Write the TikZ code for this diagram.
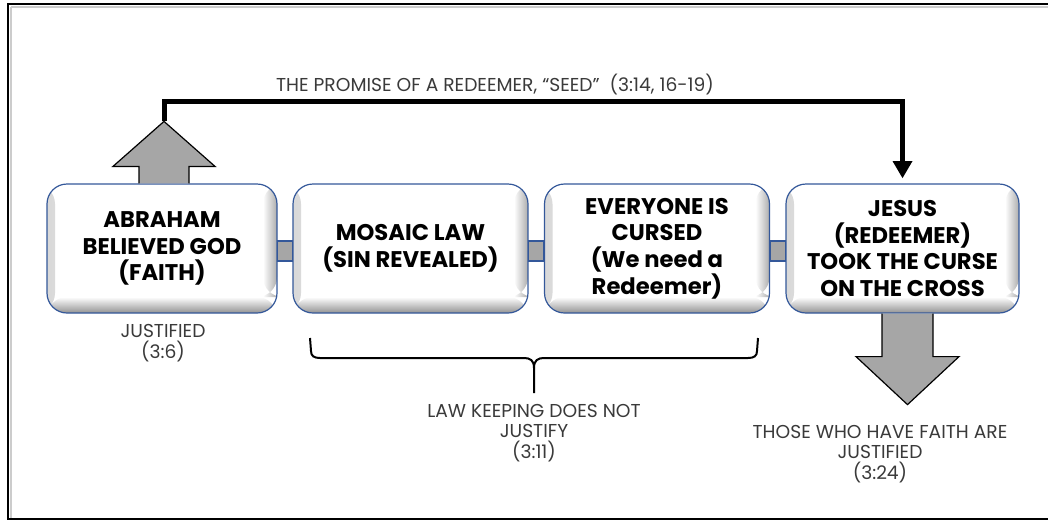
\documentclass[tikz,border=0pt]{standalone}
\usepackage{fontspec}
\setmainfont{Poppins}
\usetikzlibrary{arrows.meta,calc}
\newdimen\pxu \pxu=0.75pt
\definecolor{boxblue}{HTML}{34589A}
\definecolor{arrgray}{HTML}{A6A6A6}
\definecolor{labtext}{HTML}{3A3A3A}
\tikzset{
  stepbox/.style={draw=boxblue, line width=1.2\pxu, fill=white, rounded corners=20\pxu,
    minimum height=129\pxu, align=center, text=black,
    font=\fontsize{17}{20}\selectfont\bfseries,
    path picture={
      \shade[left color=gray!30, right color=white] (path picture bounding box.north west) rectangle ([xshift=8\pxu]path picture bounding box.south west);
      \shade[top color=white, bottom color=gray!85] ([yshift=16\pxu]path picture bounding box.south west) rectangle (path picture bounding box.south east);
      \shade[left color=white, right color=gray!65] ([xshift=-14\pxu]path picture bounding box.north east) rectangle ([yshift=16\pxu]path picture bounding box.south east);
    }},
  linkbar/.style={draw=boxblue, line width=1.2\pxu, fill=arrgray},
  blockarrow/.style={draw=black, line width=1.2\pxu, fill=arrgray, line join=miter},
  lab/.style={align=center, text=labtext, font=\fontsize{14}{15.5}\selectfont},
  promise/.style={line width=3.75pt, line join=miter, -{Triangle[length=13pt, width=14pt]}},
  bracestyle/.style={line width=1.5pt, black}
}
\begin{document}
\begin{tikzpicture}[x=0.75pt,y=-0.75pt]
\useasboundingbox (0,0) rectangle (1048,522);
% frame
\draw[gray!40, line width=2\pxu] (10.5,6.5) -- (10.5,518) (10.5,6.5) -- (1048,6.5);
\draw[black, line width=2.5\pxu] (1048,519) -- (8,519) -- (8,4) -- (1048,4);

\node[stepbox, minimum width=230\pxu] (b1) at (162,248.5) {ABRAHAM\\BELIEVED GOD\\(FAITH)};
\node[stepbox, minimum width=235\pxu] (b2) at (410.5,248.5) {MOSAIC LAW\\(SIN REVEALED)};
\node[stepbox, minimum width=225\pxu] (b3) at (657,248.5) {EVERYONE IS\\CURSED\\(We need a\\Redeemer)};
\node[stepbox, minimum width=233\pxu] (b4) at (902.5,248.5) {JESUS\\(REDEEMER)\\TOOK THE CURSE\\ON THE CROSS};

\draw[linkbar] ($(b1.east)+(0,-7.5)$) rectangle ($(b2.west)+(0,12.5)$);
\draw[linkbar] ($(b2.east)+(0,-7.5)$) rectangle ($(b3.west)+(0,12.5)$);
\draw[linkbar] ($(b3.east)+(0,-7.5)$) rectangle ($(b4.west)+(0,12.5)$);

% up block arrow from b1
\coordinate (ub) at ($(b1.north)+(2,0)$);
\coordinate (uptip) at ($(ub)+(0,-62)$);
\draw[blockarrow] ($(ub)+(-25,0)$) -- ($(ub)+(-25,-17)$) -- ($(ub)+(-51,-17)$) -- (uptip)
  -- ($(ub)+(51,-17)$) -- ($(ub)+(25,-17)$) -- ($(ub)+(25,0)$);

% promise line
\coordinate (turn) at (902.5,101);
\draw[promise] (uptip) |- (turn) -- ($(b4.north)+(0,-5)$);
\node[lab] (ptext) at (495,85) {THE PROMISE OF A REDEEMER, “SEED”~~(3:14, 16-19)};

% down block arrow from b4
\coordinate (db) at ($(b4.south)+(5,0)$);
\coordinate (dtip) at ($(db)+(0,91)$);
\draw[blockarrow] ($(db)+(-25.5,0)$) -- ($(db)+(-25.5,43)$) -- ($(db)+(-51.5,43)$) -- (dtip)
  -- ($(db)+(51.5,43)$) -- ($(db)+(25.5,43)$) -- ($(db)+(25.5,0)$);

% brace
\draw[bracestyle] (310,338) -- (311,351) .. controls (311,356) and (314,358) .. (320,358) -- (524,358)
  .. controls (530,358) and (534,360) .. (534,368) -- (534,393);
\draw[bracestyle] (758,338) -- (757,351) .. controls (757,356) and (754,358) .. (748,358) -- (544,358)
  .. controls (538,358) and (534,360) .. (534,368);

% labels
\node[lab] (j1) at (163,343) {JUSTIFIED\\(3:6)};
\node[lab] (j2) at (534,433) {LAW KEEPING DOES NOT\\JUSTIFY\\(3:11)};
\node[lab] (j3) at (880,454) {THOSE WHO HAVE FAITH ARE\\JUSTIFIED\\(3:24)};
\end{tikzpicture}
\end{document}
